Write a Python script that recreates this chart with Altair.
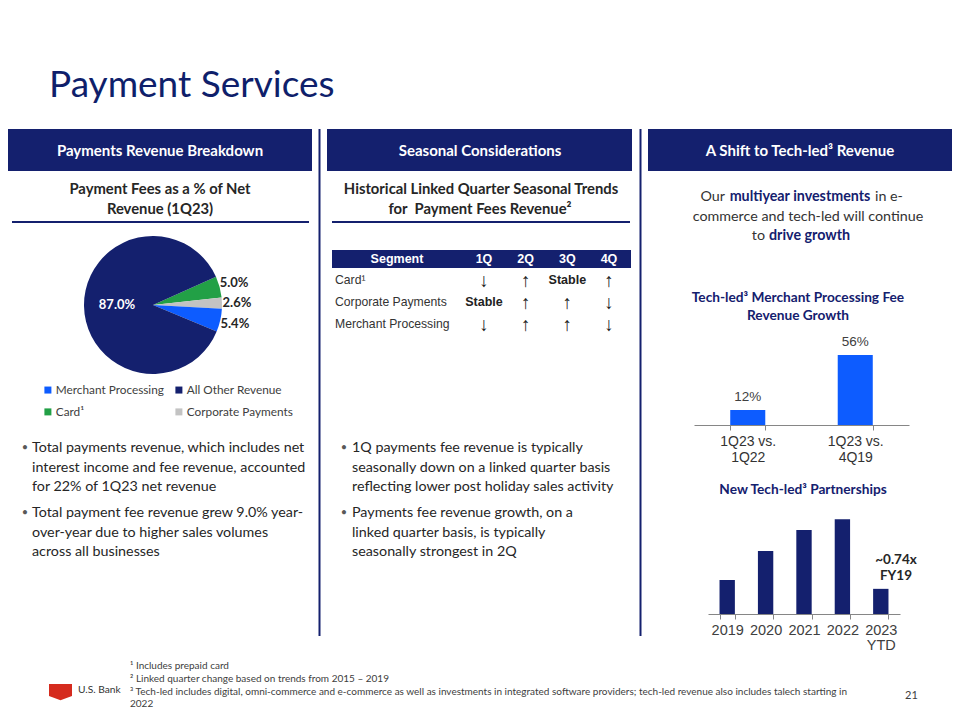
import math
import altair as alt
import pandas as pd

# ---------------- data ----------------
pie_segments = ["Card¹", "Corporate Payments", "Merchant Processing", "All Other Revenue"]
pie_values = [5.0, 2.6, 5.4, 87.0]
legend_order = ["Merchant Processing", "Card¹", "All Other Revenue", "Corporate Payments"]
legend_colors = ["#0d5cff", "#22a046", "#14206e", "#c3c3c3"]

table_segments = ["Card¹", "Corporate Payments", "Merchant Processing"]
table_quarters = ["1Q", "2Q", "3Q", "4Q"]
table_trends = {
    "Card¹": ["down", "up", "stable", "up"],
    "Corporate Payments": ["stable", "up", "up", "down"],
    "Merchant Processing": ["down", "up", "up", "down"],
}

growth_cats = ["1Q23 vs. 1Q22", "1Q23 vs. 4Q19"]
growth_vals = [12, 56]

partner_years = ["2019", "2020", "2021", "2022", "2023 YTD"]
partner_vals = [1.00, 1.85, 2.47, 2.79, 0.74]   # relative to FY19

footnotes = [
    "¹ Includes prepaid card",
    "² Linked quarter change based on trends from 2015 – 2019",
    "³ Tech-led includes digital, omni-commerce and e-commerce as well as investments in integrated software providers; tech-led revenue also includes talech starting in",
    "2022",
]

# ---------------- styles ----------------
NAVY = "#14206e"
TITLE_NAVY = "#0f1f6b"
BLUE = "#0d5cff"
DARK = "#262626"
MID = "#404040"
AXC = "#868686"
LATO = "Lato"
ARIAL = "Liberation Sans"
BODY = 14.3
SUB = 14.8
OX = OY = 8


def px(x):
    return x - OX


def py(y):
    return y - OY


def txt(t, x, y, size, color=DARK, weight="normal", align="center", font=LATO, baseline="middle"):
    return alt.Chart(pd.DataFrame({"t": [t]})).mark_text(
        align=align, baseline=baseline, font=font, fontSize=size, fontWeight=weight, color=color
    ).encode(x=alt.value(px(x)), y=alt.value(py(y)), text="t:N")


def box(x1, x2, y1, y2, color):
    return alt.Chart(pd.DataFrame({"k": [0]})).mark_rect(color=color).encode(
        x=alt.value(px(x1)), x2=alt.value(px(x2)), y=alt.value(py(y1)), y2=alt.value(py(y2))
    )


def line(x1, x2, y1, y2, color, w=2):
    return alt.Chart(pd.DataFrame({"k": [0]})).mark_rule(color=color, strokeWidth=w).encode(
        x=alt.value(px(x1)), x2=alt.value(px(x2)), y=alt.value(py(y1)), y2=alt.value(py(y2))
    )


layers = []

# title
layers.append(txt("Payment Services", 49, 97, 37, TITLE_NAVY, align="left", baseline="alphabetic"))

# header boxes
for (x1, x2, label, cx) in [(8, 312, "Payments Revenue Breakdown", 160),
                            (327, 632, "Seasonal Considerations", 480),
                            (648, 952, "A Shift to Tech-led³ Revenue", 800)]:
    layers.append(box(x1, x2, 129, 171, NAVY))
    layers.append(txt(label, cx, 151, 15, "white", weight="bold"))

# separators
layers.append(line(319.5, 319.5, 129, 636, NAVY, 2))
layers.append(line(640.5, 640.5, 129, 636, NAVY, 2))

# sub titles
layers.append(txt("Payment Fees as a % of Net", 160, 190, SUB, DARK, weight="bold"))
layers.append(txt("Revenue (1Q23)", 160, 210, SUB, DARK, weight="bold"))
layers.append(line(12, 309, 222, 222, NAVY, 2))
layers.append(txt("Historical Linked Quarter Seasonal Trends", 481, 190, SUB, DARK, weight="bold"))
layers.append(txt("for\u00a0 Payment Fees Revenue²", 480, 210, SUB, DARK, weight="bold"))
layers.append(line(332, 630, 222, 222, NAVY, 2))

# right intro text
layers.append(txt("Our", 725, 197, BODY, "#333333", align="right"))
layers.append(txt("multiyear investments", 800, 197, BODY, NAVY, weight="bold"))
layers.append(txt("in e-", 875, 197, BODY, "#333333", align="left"))
layers.append(txt("commerce and tech-led will continue", 808, 217, BODY, "#333333"))
layers.append(txt("to", 765, 236, BODY, "#333333", align="right"))
layers.append(txt("drive growth", 769, 236, BODY, NAVY, weight="bold", align="left"))

# ---------------- pie ----------------
START = math.radians(65.85)
pie_df = pd.DataFrame({"seg": pie_segments, "value": pie_values})
pie_base = alt.Chart(pie_df).transform_window(ord="row_number()").transform_calculate(
    lbl="format(datum.value, '.1f') + '%'"
)
theta = alt.Theta("value:Q", stack=True, scale=alt.Scale(range=[START, START + 2 * math.pi]))
cx, cy = px(153), py(305)
arc = pie_base.mark_arc(outerRadius=69).encode(
    theta=theta,
    order=alt.Order("ord:Q"),
    color=alt.Color(
        "seg:N",
        scale=alt.Scale(domain=legend_order, range=legend_colors),
        legend=alt.Legend(
            orient="none", legendX=px(42), legendY=py(384), columns=2, title=None,
            symbolType="square", symbolSize=49, symbolStrokeWidth=0, labelFont=LATO,
            labelFontSize=11.8, labelColor=MID, columnPadding=9, rowPadding=9, labelOffset=2,
        ),
    ),
    x=alt.value(cx), y=alt.value(cy),
)
pie_out = pie_base.mark_text(radius=84, font=LATO, fontSize=13, fontWeight="bold", color=DARK).encode(
    theta=theta, order=alt.Order("ord:Q"),
    text=alt.condition(alt.datum.seg == "All Other Revenue", alt.value(""), alt.Text("lbl:N")),
    x=alt.value(cx), y=alt.value(cy),
)
pie_in = pie_base.mark_text(radius=36, font=LATO, fontSize=13, fontWeight="bold", color="white").encode(
    theta=theta, order=alt.Order("ord:Q"),
    text=alt.condition(alt.datum.seg == "All Other Revenue", alt.Text("lbl:N"), alt.value("")),
    x=alt.value(cx), y=alt.value(cy),
)
layers.append(alt.layer(arc, pie_out, pie_in))

# bullets
left_lines = [
    ("•", "Total payments revenue, which includes net", 448),
    ("", "interest income and fee revenue, accounted", 468),
    ("", "for 22% of 1Q23 net revenue", 487),
    ("•", "Total payment fee revenue grew 9.0% year-", 513),
    ("", "over-year due to higher sales volumes", 533),
    ("", "across all businesses", 552),
]
mid_lines = [
    ("•", "1Q payments fee revenue is typically", 448),
    ("", "seasonally down on a linked quarter basis", 468),
    ("", "reflecting lower post holiday sales activity", 487),
    ("•", "Payments fee revenue growth, on a", 513),
    ("", "linked quarter basis, is typically", 533),
    ("", "seasonally strongest in 2Q", 552),
]
for lines, bx, tx in [(left_lines, 25, 32), (mid_lines, 344, 352)]:
    for b, t, y in lines:
        if b:
            layers.append(txt(b, bx, y, 11, "#595959"))
        layers.append(txt(t, tx, y, BODY, DARK, align="left"))

# ---------------- table ----------------
rows = []
for s in table_segments:
    for q, tr in zip(table_quarters, table_trends[s]):
        rows.append({"segment": s, "quarter": q, "trend": tr})
table_df = pd.DataFrame(rows)
xq = alt.X("quarter:N", scale=alt.Scale(type="point", domain=table_quarters, range=[px(484), px(609)], padding=0), axis=None)
yq = alt.Y("segment:N", scale=alt.Scale(type="point", domain=table_segments, range=[py(280), py(324)], padding=0), axis=None)

layers.append(box(332, 631, 250, 268, NAVY))
layers.append(txt("Segment", 397, 259, 12.5, "white", weight="bold", font=ARIAL))
t_head = alt.Chart(pd.DataFrame({"quarter": table_quarters})).mark_text(
    font=ARIAL, fontSize=12.5, fontWeight="bold", color="white"
).encode(x=xq, y=alt.value(py(259)), text="quarter:N")
t_rows = alt.Chart(pd.DataFrame({"segment": table_segments})).mark_text(
    font=ARIAL, fontSize=12.2, color="#333333", align="left"
).encode(x=alt.value(px(335)), y=yq, text="segment:N")
t_arrows = alt.Chart(table_df).transform_filter(alt.datum.trend != "stable").transform_calculate(
    glyph="datum.trend == 'up' ? '↑' : '↓'"
).mark_text(font="Liberation Sans, DejaVu Sans", fontSize=19, color="#222222", dy=1).encode(x=xq, y=yq, text="glyph:N")
t_stable = alt.Chart(table_df).transform_filter(alt.datum.trend == "stable").mark_text(
    font=ARIAL, fontSize=12.5, fontWeight="bold", color="#222222", text="Stable"
).encode(x=xq, y=yq)
layers.append(alt.layer(t_head, t_rows, t_arrows, t_stable))

# ---------------- chart 1 ----------------
layers.append(txt("Tech-led³ Merchant Processing Fee", 798, 298, 13.7, NAVY, weight="bold"))
layers.append(txt("Revenue Growth", 798, 316, 13.7, NAVY, weight="bold"))

H = 704
g_df = pd.DataFrame({"cat": growth_cats, "val": growth_vals})
base1 = py(425)
x1 = alt.X(
    "cat:N", sort=growth_cats,
    scale=alt.Scale(domain=growth_cats, range=[px(694), px(909)], paddingInner=0.674, paddingOuter=0.337),
    axis=alt.Axis(
        orient="bottom", offset=base1 - H, title=None, labelAngle=0, domainColor=AXC, tickColor=AXC,
        tickSize=5, tickBand="extent", labelFont=ARIAL, labelFontSize=14, labelColor="#333333",
        labelPadding=4, labelLineHeight=16, grid=False,
        labelExpr="split(replace(datum.label, 'vs. ', 'vs.|'), '|')",
    ),
)
y1 = alt.Y("val:Q", scale=alt.Scale(domain=[0, 60], range=[base1, base1 - 75], nice=False, zero=True), axis=None)
bars1 = alt.Chart(g_df).mark_bar(color=BLUE).encode(x=x1, y=y1)
lab1 = alt.Chart(g_df).transform_calculate(lbl="datum.val + '%'").mark_text(
    font=ARIAL, fontSize=13.5, color=MID, dy=-13
).encode(x=x1, y=y1, text="lbl:N")
layers.append(alt.layer(bars1, lab1))

# ---------------- chart 2 ----------------
layers.append(txt("New Tech-led³ Partnerships", 803, 490, 13.7, NAVY, weight="bold"))
p_df = pd.DataFrame({"year": partner_years, "val": partner_vals})
base2 = py(614)
x2 = alt.X(
    "year:N", sort=partner_years,
    scale=alt.Scale(domain=partner_years, range=[px(708), px(900)], paddingInner=0.6, paddingOuter=0.3),
    axis=alt.Axis(
        orient="bottom", offset=base2 - H, title=None, labelAngle=0, domainColor=AXC, tickColor=AXC,
        tickSize=5, tickBand="extent", labelFont=ARIAL, labelFontSize=14.5, labelColor="#404040",
        labelPadding=4, labelLineHeight=15, grid=False,
        labelExpr="split(datum.label, ' ')",
    ),
)
y2 = alt.Y("val:Q", scale=alt.Scale(domain=[0, 3], range=[base2, base2 - 102], nice=False, zero=True), axis=None)
bars2 = alt.Chart(p_df).mark_bar(color=NAVY).encode(x=x2, y=y2)
layers.append(bars2)
layers.append(txt("~0.74x", 896, 560, 13.5, DARK, weight="bold"))
layers.append(txt("FY19", 896, 576, 13.5, DARK, weight="bold"))

# ---------------- footer ----------------
for t, y in zip(footnotes, [666, 679, 692, 704]):
    layers.append(txt(t, 130, y, 10, MID, align="left"))
SHIELD = "M-1,-0.7L1,-0.7L1,0.35L0,0.72L-1,0.35Z"
layers.append(
    alt.Chart(pd.DataFrame({"k": [0]})).mark_point(
        shape=SHIELD, size=529, filled=True, color="#d52b1e", opacity=1, strokeWidth=0
    ).encode(x=alt.value(px(60.5)), y=alt.value(py(692)))
)
layers.append(txt("U.S. Bank", 78, 690, 10.2, "#333333", align="left"))
layers.append(txt("21", 905, 696, 11, MID, align="left"))

chart = alt.layer(*layers).resolve_scale(x="independent", y="independent").properties(
    width=944, height=704, autosize=alt.AutoSizeParams(type="none"), padding=0, background="white"
).configure_view(stroke=None)

chart.save("out.html", embed_options={"renderer": "svg", "actions": False})
